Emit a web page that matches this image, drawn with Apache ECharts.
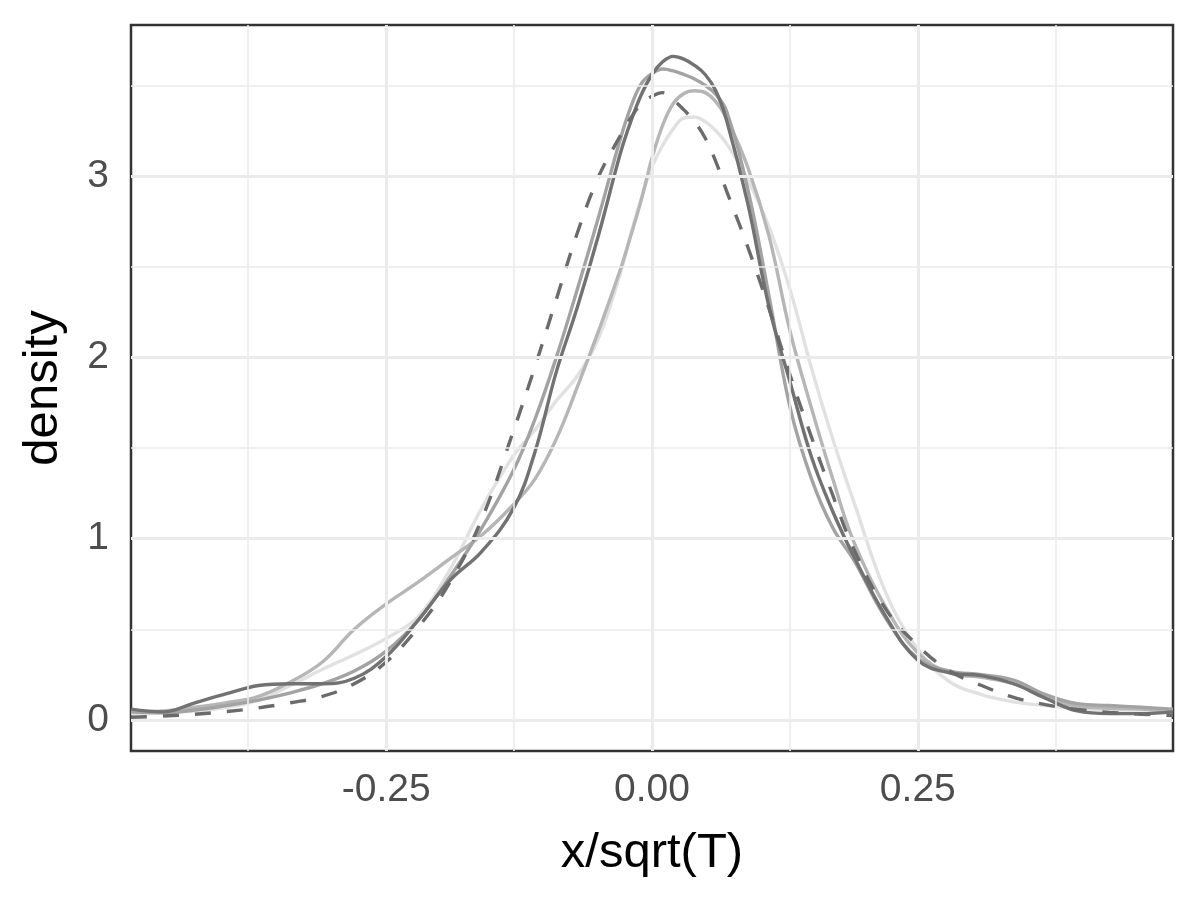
<!DOCTYPE html>
<html>
<head>
<meta charset="utf-8">
<script src="https://cdn.jsdelivr.net/npm/echarts@6/dist/echarts.min.js"></script>
<style>
  html, body { margin: 0; padding: 0; background: #fff; }
  #chart { width: 1200px; height: 900px; }
</style>
</head>
<body>
<div id="chart"></div>
<script>
// x positions shared by all density curves (finer near the peak)
const xs = [-0.49, -0.46, -0.43, -0.40, -0.37, -0.34, -0.31, -0.28, -0.25, -0.22, -0.19, -0.16, -0.13,
  -0.11, -0.09, -0.07, -0.05, -0.03, -0.02, -0.01, 0.00, 0.01, 0.02, 0.03, 0.04, 0.05, 0.06, 0.07,
  0.09, 0.11, 0.13, 0.15, 0.17, 0.19, 0.22, 0.25, 0.28, 0.31, 0.34, 0.37, 0.40, 0.43, 0.46, 0.49];

// solid, darkest
const densA = [0.06, 0.045, 0.095, 0.145, 0.19, 0.20, 0.20, 0.23, 0.35, 0.55, 0.77, 0.93, 1.17,
  1.48, 1.92, 2.28, 2.68, 3.12, 3.30, 3.45, 3.56, 3.63, 3.66, 3.645, 3.61, 3.56, 3.47, 3.31,
  2.85, 2.28, 1.86, 1.45, 1.15, 0.90, 0.57, 0.33, 0.26, 0.245, 0.20, 0.12, 0.05, 0.035, 0.035, 0.045];
// solid, medium grey
const densB = [0.045, 0.04, 0.055, 0.08, 0.11, 0.15, 0.20, 0.27, 0.38, 0.55, 0.79, 1.06, 1.38,
  1.66, 2.00, 2.38, 2.78, 3.20, 3.38, 3.51, 3.565, 3.59, 3.58, 3.56, 3.535, 3.50, 3.45, 3.36,
  2.93, 2.34, 1.72, 1.33, 1.06, 0.88, 0.56, 0.34, 0.27, 0.25, 0.22, 0.14, 0.09, 0.08, 0.07, 0.06];
// solid, light grey (wide left shoulder)
const densC = [0.045, 0.05, 0.07, 0.095, 0.13, 0.21, 0.32, 0.50, 0.64, 0.76, 0.89, 1.02, 1.19,
  1.33, 1.55, 1.84, 2.15, 2.48, 2.67, 2.87, 3.10, 3.28, 3.40, 3.455, 3.47, 3.46, 3.41, 3.32,
  3.05, 2.67, 2.14, 1.72, 1.33, 0.98, 0.62, 0.37, 0.26, 0.235, 0.20, 0.13, 0.075, 0.065, 0.06, 0.045];
// solid, very light grey
const densD = [0.035, 0.038, 0.05, 0.07, 0.11, 0.19, 0.28, 0.36, 0.45, 0.57, 0.83, 1.17, 1.46,
  1.60, 1.76, 1.90, 2.11, 2.46, 2.68, 2.88, 3.05, 3.17, 3.26, 3.32, 3.325, 3.30, 3.25, 3.18,
  2.98, 2.72, 2.37, 1.94, 1.55, 1.20, 0.70, 0.39, 0.21, 0.14, 0.10, 0.08, 0.065, 0.055, 0.055, 0.055];
// dashed reference curve
const densRef = [0.015, 0.022, 0.032, 0.047, 0.067, 0.095, 0.13, 0.20, 0.32, 0.51, 0.76, 1.11, 1.60,
  1.95, 2.32, 2.69, 3.00, 3.22, 3.32, 3.40, 3.44, 3.46, 3.42, 3.365, 3.30, 3.21, 3.08, 2.92,
  2.61, 2.27, 1.90, 1.56, 1.24, 0.94, 0.61, 0.41, 0.27, 0.19, 0.125, 0.085, 0.058, 0.042, 0.032, 0.025];

const xBreaks = [-0.25, 0, 0.25];
const xMinor = [-0.375, -0.125, 0.125, 0.375];
const yBreaks = [0, 1, 2, 3];
const yMinor = [0.5, 1.5, 2.5, 3.5];

const pairs = ys => xs.map((x, i) => [x, ys[i]]);

const chart = echarts.init(document.getElementById('chart'));

// panel grid lines, placed through the axes' scales
const gridLines = {
  type: 'line',
  data: [],
  z: 1,
  silent: true,
  markLine: {
    silent: true,
    symbol: 'none',
    label: { show: false },
    animation: false,
    data: [
      ...xMinor.map(v => ({ xAxis: v, lineStyle: { color: '#ebebeb', width: 1.6, type: 'solid' } })),
      ...yMinor.map(v => ({ yAxis: v, lineStyle: { color: '#ebebeb', width: 1.6, type: 'solid' } })),
      ...xBreaks.map(v => ({ xAxis: v, lineStyle: { color: '#ebebeb', width: 3, type: 'solid' } })),
      ...yBreaks.map(v => ({ yAxis: v, lineStyle: { color: '#ebebeb', width: 3, type: 'solid' } }))
    ]
  }
};

const curve = (name, ys, color, dashed) => ({
  name: name,
  type: 'line',
  data: pairs(ys),
  z: 3,
  smooth: 0.4,
  showSymbol: false,
  lineStyle: { color: color, width: 3.4, type: dashed ? [16, 16] : 'solid', cap: 'butt' }
});

chart.setOption({
  animation: false,
  backgroundColor: '#fff',
  textStyle: { fontFamily: 'Liberation Sans, Arial, sans-serif' },
  grid: {
    left: 131, right: 27, top: 25, bottom: 149,
    show: true, borderColor: '#333333', borderWidth: 2.5, backgroundColor: '#fff',
    outerBoundsMode: 'none'
  },
  xAxis: {
    type: 'value',
    min: -0.49, max: 0.49,
    name: 'x/sqrt(T)',
    nameLocation: 'middle',
    nameGap: 78,
    nameTextStyle: { fontSize: 49, color: '#000' },
    axisLine: { show: false },
    splitLine: { show: false },
    axisTick: { show: true, customValues: xBreaks, length: 13, lineStyle: { color: '#333333', width: 3 } },
    axisLabel: {
      customValues: xBreaks, margin: 20, fontSize: 39, color: '#4d4d4d',
      formatter: v => v.toFixed(2)
    }
  },
  yAxis: {
    type: 'value',
    min: -0.171, max: 3.833,
    name: 'density',
    nameLocation: 'middle',
    nameGap: 63,
    nameRotate: 90,
    nameTextStyle: { fontSize: 49, color: '#000' },
    axisLine: { show: false },
    splitLine: { show: false },
    axisTick: { show: true, customValues: yBreaks, length: 13, lineStyle: { color: '#333333', width: 3 } },
    axisLabel: {
      customValues: yBreaks, margin: 22, fontSize: 39, color: '#4d4d4d',
      formatter: v => String(Math.round(v))
    }
  },
  series: [
    gridLines,
    curve('d', densD, '#e1e1e1', false),
    curve('c', densC, '#b6b6b6', false),
    curve('b', densB, '#a3a3a3', false),
    curve('a', densA, '#727272', false),
    curve('ref', densRef, '#6b6b6b', true)
  ]
});
</script>
</body>
</html>
